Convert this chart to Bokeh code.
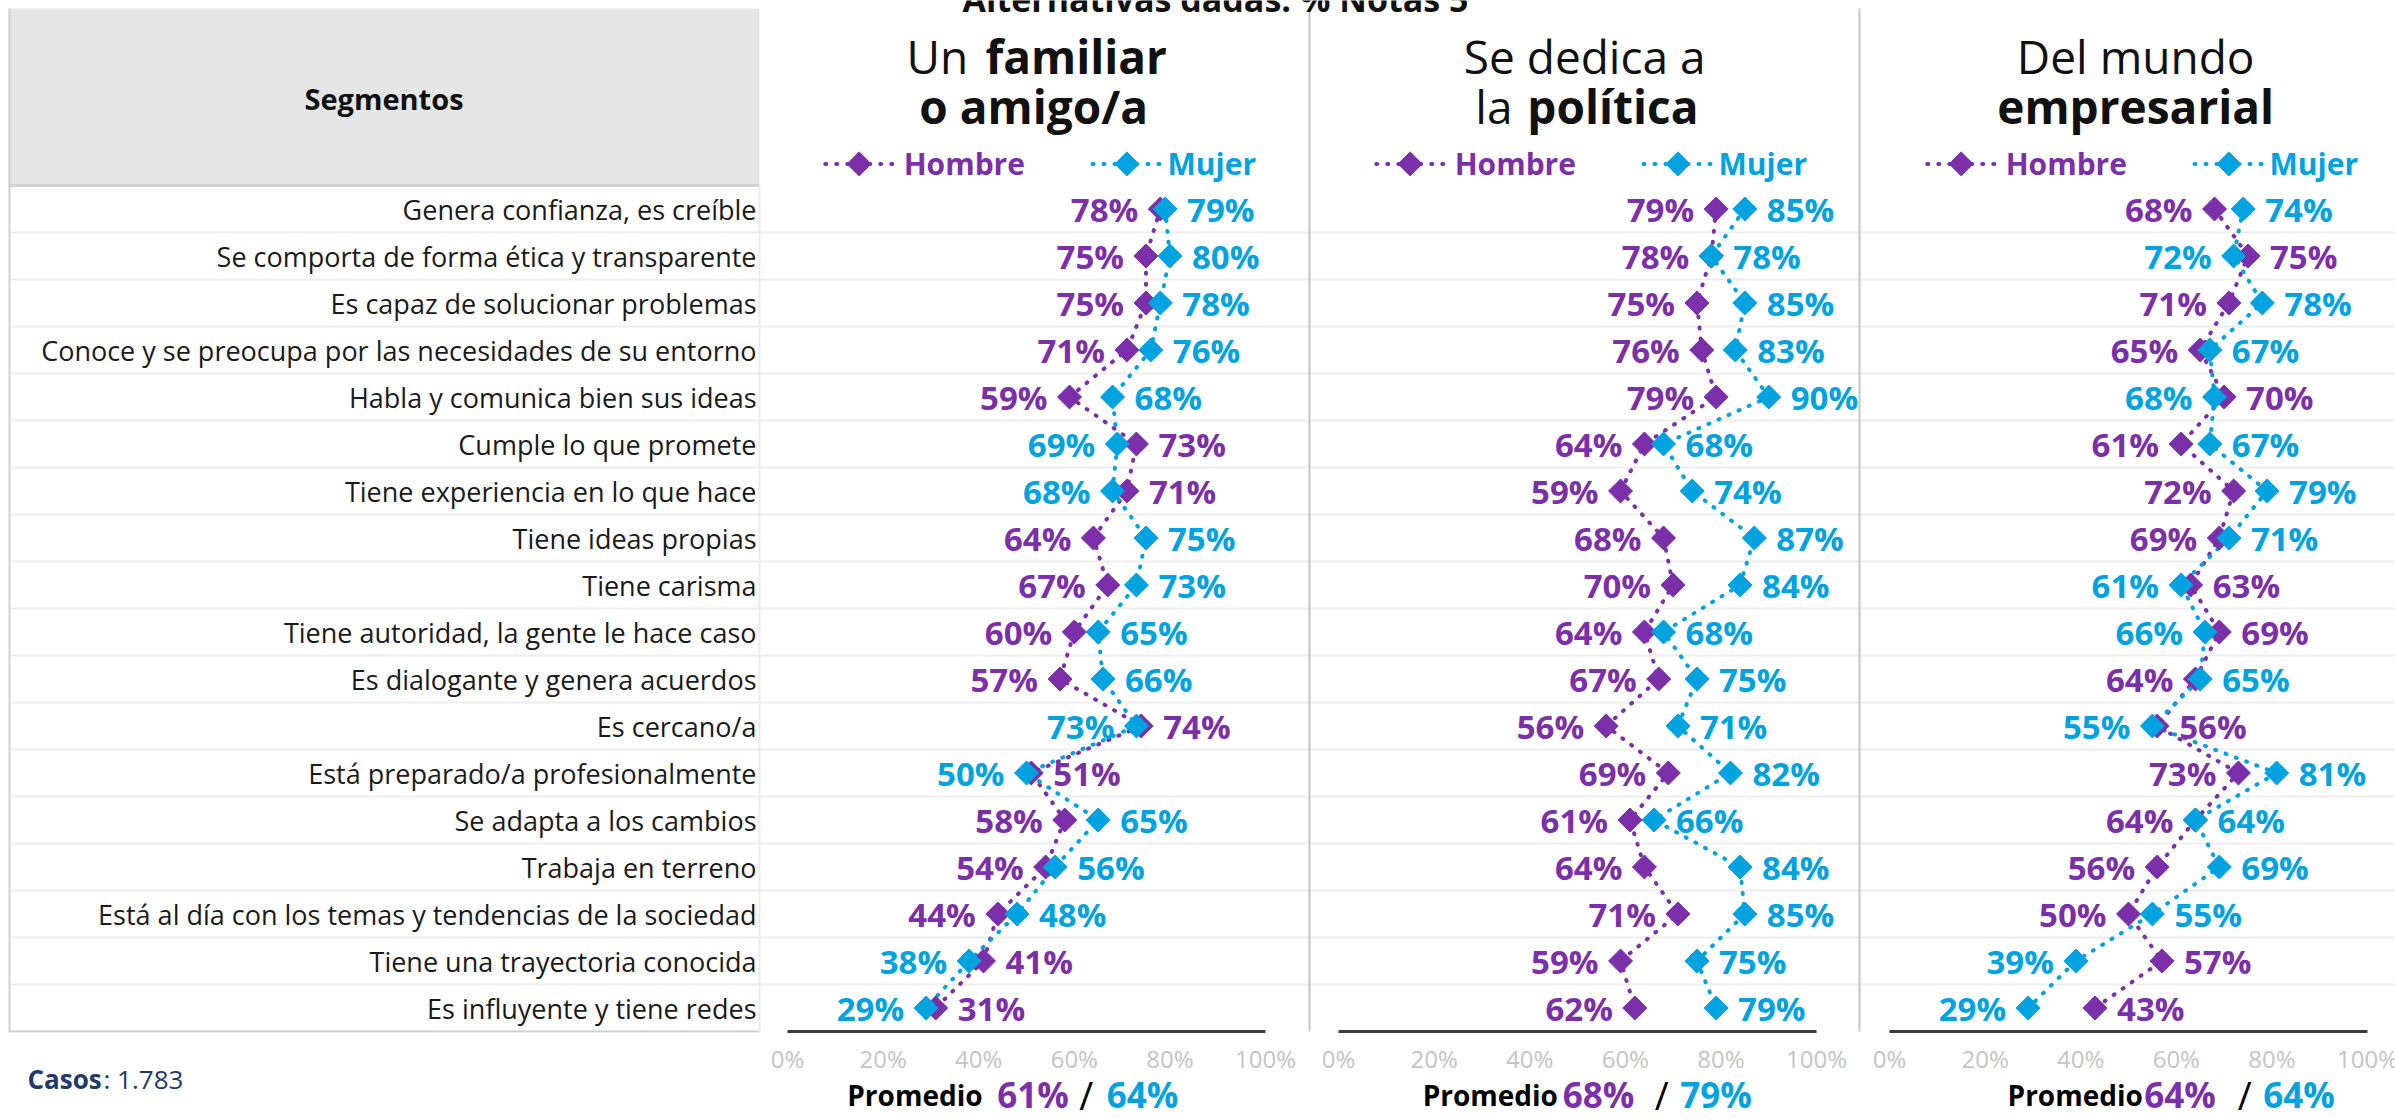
import math
from bokeh.plotting import figure
from bokeh.models import Range1d
from bokeh.embed import file_html
from bokeh.resources import INLINE
from bokeh.core.properties import value

# ---------------- data ----------------
segmentos = [
    "Genera confianza, es creíble",
    "Se comporta de forma ética y transparente",
    "Es capaz de solucionar problemas",
    "Conoce y se preocupa por las necesidades de su entorno",
    "Habla y comunica bien sus ideas",
    "Cumple lo que promete",
    "Tiene experiencia en lo que hace",
    "Tiene ideas propias",
    "Tiene carisma",
    "Tiene autoridad, la gente le hace caso",
    "Es dialogante y genera acuerdos",
    "Es cercano/a",
    "Está preparado/a profesionalmente",
    "Se adapta a los cambios",
    "Trabaja en terreno",
    "Está al día con los temas y tendencias de la sociedad",
    "Tiene una trayectoria conocida",
    "Es influyente y tiene redes",
]
familiar_hombre = [78, 75, 75, 71, 59, 73, 71, 64, 67, 60, 57, 74, 51, 58, 54, 44, 41, 31]
familiar_mujer = [79, 80, 78, 76, 68, 69, 68, 75, 73, 65, 66, 73, 50, 65, 56, 48, 38, 29]
politica_hombre = [79, 78, 75, 76, 79, 64, 59, 68, 70, 64, 67, 56, 69, 61, 64, 71, 59, 62]
politica_mujer = [85, 78, 85, 83, 90, 68, 74, 87, 84, 68, 75, 71, 82, 66, 84, 85, 75, 79]
empresarial_hombre = [68, 75, 71, 65, 70, 61, 72, 69, 63, 69, 64, 56, 73, 64, 56, 50, 57, 43]
empresarial_mujer = [74, 72, 78, 67, 68, 67, 79, 71, 61, 66, 65, 55, 81, 64, 69, 55, 39, 29]
promedio_hombre = [61, 68, 64]
promedio_mujer = [64, 79, 64]
series_names = ["Hombre", "Mujer"]
tick_values = [0, 20, 40, 60, 80, 100]
tick_labels = ["0%", "20%", "40%", "60%", "80%", "100%"]
# each title line: (normal part, bold part)
panel_titles = [
    [("Un", "familiar"), ("", "o amigo/a")],
    [("Se dedica a", ""), ("la", "política")],
    [("Del mundo", ""), ("", "empresarial")],
]
header_title = "Alternativas dadas: % Notas 5"
table_header = "Segmentos"
promedio_label = "Promedio"
casos_label = "Casos"
casos_value = ": 1.783"

# ---------------- layout / style constants ----------------
PURPLE = "#7B2FA8"
BLUE = "#00A2DF"
INK = "#111111"
FONT = value("Open Sans")
TOTAL_W = 2395
TOTAL_H = 1119
TABLE_L = 8
TABLE_R = 759
SEP_X = [1309, 1859]
ZERO_ABS = [787, 1338, 1889]      # screen x of 0% in each panel
UNIT_PX = 4.78                     # screen px per percentage point
ROW_PX = 47.0
ROW1_CY = 208.5
N = len(segmentos)
rows_y = list(range(1, N + 1))
BOTTOM = N + 0.5


def ydata(cy):
    return 1 + (cy - ROW1_CY) / ROW_PX


TITLE_CENTER = 51.5
TITLE_SPLITS = {(0, 0): (37.8, 41.4), (1, 1): (36.4, 39.5)}
TITLE_Y = [ydata(55), ydata(105)]
LEG_Y = ydata(163.4)
LEG_SEG = [(7.9, 22.2), (63.8, 78.2)]
LEG_MARK = [15.0, 71.0]
LEG_TEXT = [24.3, 79.5]
PROM_POS = [(40.8, 43.9, 62.5, 66.8), (45.9, 46.9, 67.6, 71.5), (53.0, 53.3, 74.3, 78.2)]
PROM_Y = ydata(1094)
TICK_Y = ydata(1058)
LABEL_OFF = 22
MARK_SIZE = 17

extra = {f"p{k}": Range1d(-z / UNIT_PX, (TOTAL_W - z) / UNIT_PX) for k, z in enumerate(ZERO_ABS)}

p = figure(width=TOTAL_W, height=TOTAL_H, x_range=Range1d(0, TOTAL_W),
           y_range=Range1d(ydata(TOTAL_H), ydata(0)), extra_x_ranges=extra,
           x_axis_type=None, y_axis_type=None, output_backend="svg", toolbar_location=None, tools="",
           min_border=0, min_border_left=0, min_border_right=0, min_border_top=0, min_border_bottom=0,
           outline_line_color=None, background_fill_color="white", border_fill_color="white")

# ---------------- table ----------------
p.quad(left=[TABLE_L], right=[TABLE_R], top=[ydata(8)], bottom=[0.5], fill_color="#E6E6E6", line_color=None)
seps = [i + 0.5 for i in range(1, N)]
p.segment(x0=[TABLE_L] * len(seps), x1=[TOTAL_W] * len(seps), y0=seps, y1=seps,
          line_color="#EEEEEE", line_width=2)
p.segment(x0=[TABLE_L], x1=[TABLE_R], y0=[0.5], y1=[0.5], line_color="#D3D3D3", line_width=3)
p.segment(x0=[TABLE_L + 1], x1=[TABLE_L + 1], y0=[ydata(8)], y1=[BOTTOM], line_color="#D0D0D0", line_width=2)
p.segment(x0=[TABLE_L], x1=[TABLE_R], y0=[BOTTOM], y1=[BOTTOM], line_color="#CFCFCF", line_width=2)
p.segment(x0=[TABLE_R], x1=[TABLE_R], y0=[0.5], y1=[BOTTOM], line_color="#EBEBEB", line_width=2)
p.segment(x0=SEP_X, x1=SEP_X, y0=[ydata(8)] * 2, y1=[BOTTOM] * 2, line_color="#C4C4C4", line_width=2)

p.text(x=[(TABLE_L + TABLE_R) / 2], y=[ydata(98)], text=[table_header], text_font=FONT, text_font_style="bold",
       text_font_size="29px", text_align="center", text_baseline="middle", text_color=INK)
p.text(x=[TABLE_R - 3] * N, y=rows_y, text=segmentos, text_font=FONT, text_font_size="27px",
       text_align="right", text_baseline="middle", text_color="#1A1A1A")
p.text(x=[27], y=[ydata(1078)], text=[casos_label], text_font=FONT, text_font_style="bold",
       text_font_size="26px", text_align="left", text_baseline="middle", text_color="#1F3A64")
p.text(x=[103], y=[ydata(1078)], text=[casos_value], text_font=FONT,
       text_font_size="26px", text_align="left", text_baseline="middle", text_color="#1F3A64")

# top header, cut by the top edge as in the original
p.text(x=[1215], y=[ydata(-2)], text=[header_title], text_font=FONT, text_font_style="bold",
       text_font_size="34px", text_align="center", text_baseline="middle", text_color=INK)

# ---------------- panels ----------------
panel_data = [(familiar_hombre, familiar_mujer), (politica_hombre, politica_mujer),
              (empresarial_hombre, empresarial_mujer)]
colors = [PURPLE, BLUE]
for k, (hombre, mujer) in enumerate(panel_data):
    rn = f"p{k}"

    # titles
    for li, (norm, bold) in enumerate(panel_titles[k]):
        ty = TITLE_Y[li]
        if norm and bold:
            a, b = TITLE_SPLITS[(k, li)]
            p.text(x=[a], y=[ty], text=[norm], x_range_name=rn, text_font=FONT, text_font_size="46px",
                   text_align="right", text_baseline="middle", text_color=INK)
            p.text(x=[b], y=[ty], text=[bold], x_range_name=rn, text_font=FONT, text_font_size="46px",
                   text_font_style="bold", text_align="left", text_baseline="middle", text_color=INK)
        else:
            p.text(x=[TITLE_CENTER], y=[ty], text=[norm or bold], x_range_name=rn, text_font=FONT,
                   text_font_size="46px", text_font_style="normal" if norm else "bold",
                   text_align="center", text_baseline="middle", text_color=INK)

    # legend
    for si, name in enumerate(series_names):
        x0, x1 = LEG_SEG[si]
        p.line(x=[x0, x1], y=[LEG_Y, LEG_Y], x_range_name=rn, line_color=colors[si], line_width=4,
               line_dash="1 10", line_cap="round")
        p.scatter(x=[LEG_MARK[si]], y=[LEG_Y], x_range_name=rn, marker="square", angle=math.pi / 4,
                  size=MARK_SIZE, color=colors[si])
        p.text(x=[LEG_TEXT[si]], y=[LEG_Y], text=[name], x_range_name=rn, text_font=FONT,
               text_font_style="bold", text_font_size="30px", text_align="left", text_baseline="middle",
               text_color=colors[si])

    # series
    for si, vals in enumerate([hombre, mujer]):
        p.line(x=vals, y=rows_y, x_range_name=rn, line_color=colors[si], line_width=4, line_dash="1 10",
               line_cap="round")
    for si, vals in enumerate([hombre, mujer]):
        p.scatter(x=vals, y=rows_y, x_range_name=rn, marker="square", angle=math.pi / 4, size=MARK_SIZE,
                  color=colors[si])

    lx, lt, lc, rx, rt, rc = [], [], [], [], [], []
    for h, m in zip(hombre, mujer):
        if h <= m:
            lo, lo_c, hi, hi_c = h, PURPLE, m, BLUE
        else:
            lo, lo_c, hi, hi_c = m, BLUE, h, PURPLE
        lx.append(lo); lt.append(f"{lo}%"); lc.append(lo_c)
        rx.append(hi); rt.append(f"{hi}%"); rc.append(hi_c)
    p.text(x=lx, y=rows_y, text=lt, text_color=lc, x_offset=-LABEL_OFF, x_range_name=rn, text_font=FONT,
           text_font_style="bold", text_font_size="33px", text_align="right", text_baseline="middle")
    p.text(x=rx, y=rows_y, text=rt, text_color=rc, x_offset=LABEL_OFF, x_range_name=rn, text_font=FONT,
           text_font_style="bold", text_font_size="33px", text_align="left", text_baseline="middle")

    # percentage scale (axis line + tick labels)
    p.segment(x0=[tick_values[0]], x1=[tick_values[-1]], y0=[BOTTOM], y1=[BOTTOM], x_range_name=rn,
              line_color="#3C3C3C", line_width=3)
    p.text(x=tick_values, y=[TICK_Y] * len(tick_values), text=tick_labels, x_range_name=rn, text_font=FONT,
           text_font_size="24px", text_align="center", text_baseline="middle", text_color="#C4C4C4")

    # Promedio
    pr, hl, sc, ml = PROM_POS[k]
    p.text(x=[pr], y=[PROM_Y], text=[promedio_label], x_range_name=rn, text_font=FONT, text_font_style="bold",
           text_font_size="28px", text_align="right", text_baseline="middle", text_color="#000000")
    p.text(x=[hl], y=[PROM_Y], text=[f"{promedio_hombre[k]}%"], x_range_name=rn, text_font=FONT,
           text_font_style="bold", text_font_size="35px", text_align="left", text_baseline="middle",
           text_color=PURPLE)
    p.text(x=[sc], y=[PROM_Y], text=["/"], x_range_name=rn, text_font=FONT, text_font_size="38px",
           text_align="center", text_baseline="middle", text_color="#000000")
    p.text(x=[ml], y=[PROM_Y], text=[f"{promedio_mujer[k]}%"], x_range_name=rn, text_font=FONT,
           text_font_style="bold", text_font_size="35px", text_align="left", text_baseline="middle",
           text_color=BLUE)

open("out.html", "w").write(file_html(p, INLINE))
